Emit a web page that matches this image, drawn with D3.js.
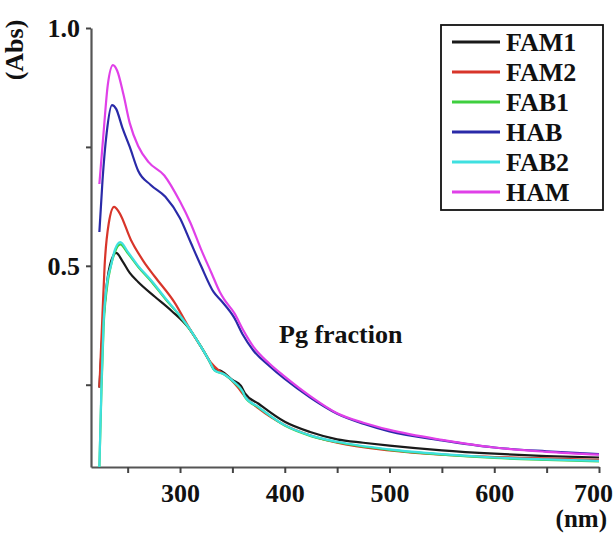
<!DOCTYPE html>
<html>
<head>
<meta charset="utf-8">
<script src="https://cdn.jsdelivr.net/npm/d3@7"></script>
</head>
<body style="margin:0">
<script>
// wavelength (nm), absorbance pairs
const seriesNames = ['FAM1', 'FAM2', 'FAB1', 'HAB', 'FAB2', 'HAM'];
const seriesColors = ['#1a1a1a', '#d8352a', '#3fcf3f', '#2a2aa8', '#3fe0e0', '#e040e8'];

const fam1 = [[223,0.244],[226,0.36],[229,0.44],[233,0.50],[239,0.527],[245,0.510],[252,0.485],[260,0.466],[276,0.435],[292,0.405],[308,0.370],[320,0.330],[328,0.300],[332,0.284],[340,0.278],[350,0.260],[358,0.248],[362,0.232],[375,0.210],[400,0.172],[425,0.150],[450,0.135],[475,0.128],[500,0.122],[550,0.112],[600,0.105],[650,0.100],[700,0.097]];
const fam2 = [[223,0.244],[226,0.40],[228,0.50],[232,0.590],[237,0.624],[242,0.612],[253,0.555],[265,0.510],[276,0.477],[295,0.422],[308,0.372],[320,0.330],[330,0.295],[338,0.278],[345,0.268],[355,0.245],[362,0.225],[375,0.200],[400,0.165],[425,0.143],[450,0.128],[500,0.112],[550,0.103],[600,0.098],[650,0.095],[700,0.092]];
const fab1 = [[223,0.077],[225,0.24],[227,0.37],[230,0.45],[234,0.50],[238,0.530],[243,0.545],[250,0.527],[260,0.498],[273,0.466],[286,0.430],[300,0.394],[310,0.364],[320,0.330],[328,0.300],[333,0.280],[342,0.272],[352,0.254],[360,0.234],[362,0.224],[375,0.202],[400,0.164],[425,0.142],[450,0.129],[500,0.113],[550,0.103],[600,0.096],[650,0.092],[700,0.089]];
const hab  = [[223,0.571],[226,0.68],[230,0.78],[235,0.838],[239,0.83],[245,0.79],[252,0.75],[260,0.700],[272,0.670],[286,0.645],[300,0.600],[310,0.550],[320,0.500],[332,0.445],[340,0.425],[352,0.390],[360,0.355],[370,0.322],[385,0.290],[400,0.262],[425,0.222],[450,0.189],[475,0.168],[500,0.152],[550,0.133],[600,0.118],[650,0.110],[700,0.104]];
const fab2 = [[223,0.077],[225,0.25],[227,0.38],[230,0.46],[234,0.50],[238,0.535],[243,0.550],[250,0.530],[260,0.500],[273,0.468],[286,0.432],[300,0.395],[310,0.365],[320,0.330],[328,0.300],[333,0.280],[342,0.272],[352,0.255],[360,0.235],[362,0.225],[375,0.203],[400,0.165],[425,0.143],[450,0.130],[500,0.114],[550,0.104],[600,0.097],[650,0.093],[700,0.090]];
const ham  = [[223,0.672],[227,0.78],[231,0.88],[236,0.922],[240,0.91],[246,0.86],[252,0.80],[260,0.752],[270,0.718],[285,0.690],[300,0.635],[310,0.590],[320,0.535],[330,0.485],[338,0.445],[342,0.430],[352,0.400],[360,0.366],[370,0.330],[385,0.295],[400,0.267],[425,0.225],[450,0.190],[475,0.170],[500,0.155],[550,0.134],[600,0.118],[650,0.109],[700,0.103]];

const xTicks = [250, 300, 350, 400, 450, 500, 550, 600, 650, 700];
const xLabels = [300, 400, 500, 600, 700];
const yTicks = [0.25, 0.5, 0.75, 1.0];
const yLabels = [0.5, 1.0];

const allSeries = [fam1, fam2, fab1, hab, fab2, ham];

const width = 616, height = 533;
const serif = '"Liberation Serif"';

let svg = d3.select('body').append('svg')
            .attr('width', width)
            .attr('height', height);

let x = d3.scaleLinear().domain([215, 700]).range([91, 599]);
let y = d3.scaleLinear().domain([0.077, 1.0]).range([467, 28]);

// axes
let xAxis = svg.append('g')
               .attr('transform', `translate(0,${y(0.077)})`)
               .call(d3.axisBottom(x).tickValues(xTicks).tickSize(6).tickSizeOuter(0)
                       .tickFormat(d => xLabels.includes(d) ? d : ''));
let yAxis = svg.append('g')
               .attr('transform', `translate(${x(215)},0)`)
               .call(d3.axisLeft(y).tickValues(yTicks).tickSize(5).tickSizeOuter(0)
                       .tickFormat(d => yLabels.includes(d) ? d.toFixed(1) : ''));

[xAxis, yAxis].forEach(a => {
    a.attr('font-family', serif).attr('font-size', 26);
    a.select('.domain').attr('stroke', '#555').attr('stroke-width', 2.2);
    a.selectAll('.tick line').attr('stroke', '#444').attr('stroke-width', 2);
    a.selectAll('.tick text')
     .attr('font-family', serif)
     .attr('font-weight', 'bold')
     .attr('font-size', 26)
     .attr('fill', '#111');
});
xAxis.selectAll('.tick text').attr('y', 35).attr('dy', 0);
// last label sits against the right edge of the picture
xAxis.selectAll('.tick text').filter(d => d === 700).attr('x', -6);
yAxis.selectAll('.tick text').attr('x', -11);

// curves
let line = d3.line()
             .x(d => x(d[0]))
             .y(d => y(d[1]))
             .curve(d3.curveMonotoneX);

svg.append('g').selectAll('path')
   .data(allSeries)
   .enter()
   .append('path')
   .attr('d', d => line(d))
   .attr('fill', 'none')
   .attr('stroke', (d, i) => seriesColors[i])
   .attr('stroke-width', 2.2)
   .attr('stroke-linejoin', 'round');

// axis titles
let label = (sel) => sel.attr('font-family', serif).attr('font-weight', 'bold').attr('fill', '#111');

svg.append('text')
   .call(label)
   .attr('transform', 'translate(23,50) rotate(-90)')
   .attr('text-anchor', 'middle')
   .attr('font-size', 26)
   .text('(Abs)');

svg.append('text')
   .call(label)
   .attr('x', 607).attr('y', 527)
   .attr('text-anchor', 'end')
   .attr('font-size', 25)
   .text('(nm)');

svg.append('text')
   .call(label)
   .attr('x', 279).attr('y', 343)
   .attr('font-size', 26)
   .text('Pg fraction');

// legend
let legend = svg.append('g');
legend.append('rect')
      .attr('x', 441).attr('y', 25)
      .attr('width', 162).attr('height', 185)
      .attr('fill', '#fff')
      .attr('stroke', '#111')
      .attr('stroke-width', 1.8);

let items = legend.selectAll('g.item')
                  .data(seriesNames)
                  .enter()
                  .append('g')
                  .attr('class', 'item')
                  .attr('transform', (d, i) => `translate(0,${42 + i * 30})`);
items.append('line')
     .attr('x1', 452).attr('x2', 500)
     .attr('stroke', (d, i) => seriesColors[i])
     .attr('stroke-width', 3);
items.append('text')
     .call(label)
     .attr('x', 506)
     .attr('dy', '0.35em')
     .attr('font-size', 26)
     .text(d => d);
</script>
</body>
</html>
